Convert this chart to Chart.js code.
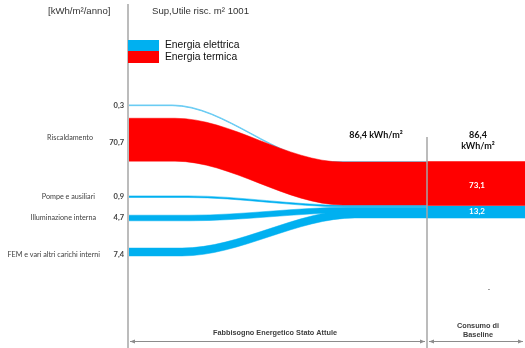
<!DOCTYPE html>
<html>
<head>
<meta charset="utf-8">
<script src="https://cdn.jsdelivr.net/npm/chart.js@4.4.1/dist/chart.umd.min.js"></script>
<style>
  html, body { margin: 0; padding: 0; background: #ffffff; }
  #wrap { width: 525px; height: 348px; position: relative; }
</style>
</head>
<body>
<div id="wrap"><canvas id="c" width="525" height="348"></canvas></div>
<script>
// ---- data ----
const flowLabels  = ['', 'Riscaldamento', 'Pompe e ausiliari', 'Illuminazione interna', 'FEM e vari altri carichi interni'];
const flowValues  = [0.3, 70.7, 0.9, 4.7, 7.4];
const flowCarrier = ['elettrica', 'termica', 'elettrica', 'elettrica', 'elettrica'];
const carrierNames  = ['Energia elettrica', 'Energia termica'];
const baselineCarrier = ['termica', 'elettrica'];
const baselineValues  = [73.1, 13.2];
const totalValue = 86.4;
const unitLabel = 'kWh/m²';
const surfaceLabel = 'Sup,Utile risc. m² 1001';
const axisTitle = '[kWh/m²/anno]';
const sectionLabels = ['Fabbisogno Energetico Stato Attule', 'Consumo di|Baseline'];

// ---- layout (chart units = canvas pixels) ----
const X0 = 129, XMID = 427, XEND = 525;
const startCenter = [105.3, 139.7, 196.7, 218, 252];
const endCenter   = [162, 183.5, 206, 210, 214];
const bendStart   = [172, 175, 188, 190, 182];
const bendEnd     = [330, 343, 345, 350, 355];
const labelRight  = [0, 93, 95, 96, 100];
const valueShift  = [0, 3, 0, 0, 3];
const nameShift   = [0, -2, 0, 0, 3];
const baselineCenter = [183.5, 212];
const colors = { elettrica: '#00B0F0', termica: '#FF0000' };
const thinColor = '#63C9F2';
// band thickness grows with the value (compressed so small flows stay visible)
const thick = v => 1.76 * Math.pow(v, 0.75);
const fmt = v => v.toFixed(1).replace('.', ',');

const datasets = [];
function addBand(pts, w, color) {
  const top = pts.map(p => ({ x: p.x, y: p.y - w / 2 }));
  const bot = pts.map(p => ({ x: p.x, y: p.y + w / 2 }));
  const common = { pointRadius: 0, cubicInterpolationMode: 'monotone', borderColor: color, borderWidth: w < 1 ? 0.8 : 0.5 };
  datasets.push(Object.assign({ data: top, fill: '+1', backgroundColor: color }, common));
  datasets.push(Object.assign({ data: bot, fill: false }, common));
}
// red first, thin flows drawn over it
const order = [1, 4, 3, 2, 0];
order.forEach(i => {
  const w = thick(flowValues[i]);
  const color = (i === 0) ? thinColor : colors[flowCarrier[i]];
  addBand([
    { x: X0, y: startCenter[i] },
    { x: bendStart[i], y: startCenter[i] },
    { x: bendEnd[i], y: endCenter[i] },
    { x: XMID, y: endCenter[i] }
  ], w, color);
});
baselineValues.forEach((v, j) => {
  addBand([{ x: XMID, y: baselineCenter[j] }, { x: XEND, y: baselineCenter[j] }], thick(v), colors[baselineCarrier[j]]);
});

const textPlugin = {
  id: 'annotations',
  afterDraw(chart) {
    const { ctx, scales: { x, y } } = chart;
    const X = v => x.getPixelForValue(v), Y = v => y.getPixelForValue(v);
    ctx.save();
    // axis separators
    ctx.strokeStyle = '#A6A6A6'; ctx.lineWidth = 1.5;
    ctx.beginPath(); ctx.moveTo(X(128), Y(4)); ctx.lineTo(X(128), Y(348)); ctx.stroke();
    ctx.beginPath(); ctx.moveTo(X(427), Y(137)); ctx.lineTo(X(427), Y(348)); ctx.stroke();

    // top titles
    ctx.fillStyle = '#333333'; ctx.textBaseline = 'middle';
    ctx.font = '9.6px "Liberation Sans", Arial, sans-serif';
    ctx.textAlign = 'left';
    ctx.fillText(axisTitle, X(48), Y(11));
    ctx.fillText(surfaceLabel, X(152), Y(11));

    // legend
    ctx.fillStyle = colors.elettrica; ctx.fillRect(X(128), Y(40), 31, 11);
    ctx.fillStyle = colors.termica;   ctx.fillRect(X(128), Y(51), 31, 12);
    ctx.fillStyle = '#111111';
    ctx.font = '10.3px "Liberation Sans", Arial, sans-serif';
    ctx.fillText(carrierNames[0], X(165), Y(45));
    ctx.fillText(carrierNames[1], X(165), Y(57));

    // left labels
    ctx.fillStyle = '#3F3F3F';
    flowLabels.forEach((lab, i) => {
      ctx.font = 'bold 7.5px Lato, sans-serif';
      ctx.textAlign = 'right';
      ctx.fillText(fmt(flowValues[i]), X(124), Y(startCenter[i] + valueShift[i]));
      if (lab) {
        ctx.font = '7.2px Lato, sans-serif';
        ctx.fillText(lab, X(labelRight[i]), Y(startCenter[i] + nameShift[i]));
      }
    });

    // totals
    ctx.fillStyle = '#111111'; ctx.textAlign = 'center';
    ctx.font = 'bold 9px Lato, sans-serif';
    ctx.fillText(fmt(totalValue) + ' ' + unitLabel, X(376), Y(135));
    ctx.fillText(fmt(totalValue), X(478), Y(135));
    ctx.fillText(unitLabel, X(478), Y(146));

    // baseline values
    ctx.fillStyle = '#ffffff';
    ctx.font = 'bold 8px Lato, sans-serif';
    baselineValues.forEach((v, j) => ctx.fillText(fmt(v), X(477), Y(baselineCenter[j] + (j === 0 ? 1.5 : -1))));

    // bottom section arrows
    ctx.strokeStyle = '#8C8C8C'; ctx.fillStyle = '#8C8C8C'; ctx.lineWidth = 1;
    function arrow(a, b, yy) {
      ctx.beginPath(); ctx.moveTo(X(a), Y(yy)); ctx.lineTo(X(b), Y(yy)); ctx.stroke();
      [[a, 1], [b, -1]].forEach(([p, d]) => {
        ctx.beginPath();
        ctx.moveTo(X(p), Y(yy));
        ctx.lineTo(X(p) + d * 5, Y(yy) - 2);
        ctx.lineTo(X(p) + d * 5, Y(yy) + 2);
        ctx.closePath(); ctx.fill();
      });
    }
    arrow(130, 425, 341.5);
    arrow(429, 523, 341.5);
    ctx.fillStyle = '#404040';
    ctx.font = 'bold 7.3px "Liberation Sans", Arial, sans-serif';
    ctx.fillText(sectionLabels[0], X(275), Y(333));
    const parts = sectionLabels[1].split('|');
    ctx.fillText(parts[0], X(478), Y(326));
    ctx.fillText(parts[1], X(478), Y(334.5));
    ctx.fillStyle = '#9A9A9A';
    ctx.fillText('-', X(489), Y(289));
    ctx.restore();
  }
};

new Chart(document.getElementById('c'), {
  type: 'line',
  data: { datasets },
  options: {
    responsive: false,
    animation: false,
    layout: { padding: 0 },
    plugins: { legend: { display: false }, tooltip: { enabled: false } },
    elements: { line: { tension: 0 } },
    scales: {
      x: { type: 'linear', min: 0, max: 525, display: false },
      y: { type: 'linear', min: 0, max: 348, reverse: true, display: false }
    }
  },
  plugins: [textPlugin]
});
</script>
</body>
</html>
